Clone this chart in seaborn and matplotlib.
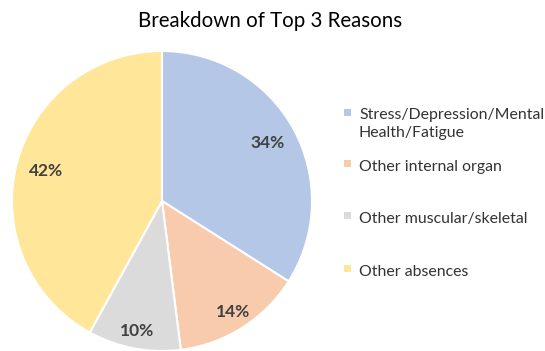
import matplotlib
matplotlib.use("Agg")
import numpy as np
import matplotlib.pyplot as plt
import seaborn as sns
from matplotlib.patches import Rectangle

sns.set_theme(style="white")
plt.rcParams['font.family'] = ['Lato', 'DejaVu Sans']

categories = ["Stress/Depression/Mental\nHealth/Fatigue", "Other internal organ",
              "Other muscular/skeletal", "Other absences"]
values = [34, 14, 10, 42]
colors = ["#B4C7E7", "#F8CBAD", "#DBDBDB", "#FFE699"]
title = "Breakdown of Top 3 Reasons"
label_dist = [0.80, 0.88, 0.88, 0.80]

fig = plt.figure(figsize=(5.45, 3.51), dpi=100)
W, H = 545, 351
cx, cy, r = 162, 201, 150
ax = fig.add_axes([(cx - r) / W, 1 - (cy + r) / H, 2 * r / W, 2 * r / H])
wedges, texts, autotexts = ax.pie(
    values, colors=colors, startangle=90, counterclock=False,
    autopct="%1.0f%%", pctdistance=0.83,
    wedgeprops=dict(edgecolor="white", linewidth=1.5),
    textprops=dict(color="#404040", fontsize=12.5, fontweight="bold"))
for w, t, d in zip(wedges, autotexts, label_dist):
    ang = np.deg2rad((w.theta1 + w.theta2) / 2)
    t.set_position((d * np.cos(ang), d * np.sin(ang)))
ax.set_xlim(-1, 1)
ax.set_ylim(-1, 1)
ax.set_aspect("equal")
ax.axis("off")

fig.text(270 / W, 1 - 21 / H, title, ha="center", va="center",
         fontsize=14.8, color="#000000")

ys = [112, 163, 215, 268]
for lab, col, y in zip(categories, colors, ys):
    fig.patches.append(Rectangle(((344) / W, 1 - (y + 4) / H), 7 / W, 7 / H,
                                 transform=fig.transFigure, facecolor=col,
                                 edgecolor="none"))
    fig.text(359 / W, 1 - (y - 3.5) / H, lab, ha="left", va="top",
             fontsize=11.4, color="#333333", linespacing=1.3)

fig.savefig("out.png", dpi=100)
